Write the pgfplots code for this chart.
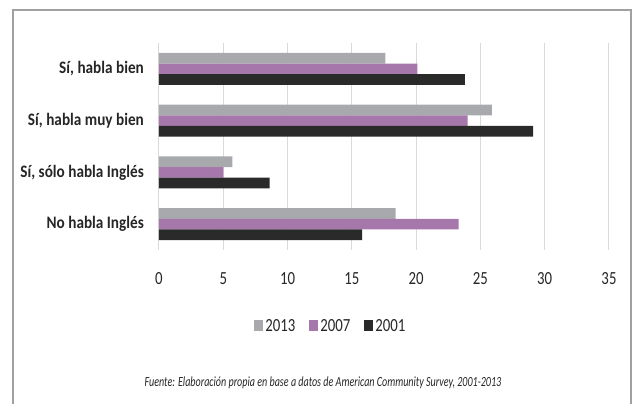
\documentclass[border=0pt]{standalone}
\usepackage{pgfplots}
\pgfplotsset{compat=1.18}
\usepackage{fontspec}
\setmainfont{Carlito}
\newfontfamily\labfont{Carlito}[FakeStretch=0.87]
\newfontfamily\tickfont{Carlito}[FakeStretch=0.8]
\newfontfamily\footfont{Carlito}[FakeStretch=0.72]
\definecolor{cgray}{HTML}{A8A9AC}
\definecolor{cpurple}{HTML}{A677AA}
\definecolor{cblack}{HTML}{2A2A2A}
\definecolor{gridc}{HTML}{D9D9D9}
\definecolor{framec}{HTML}{A0A0A0}
\definecolor{txt}{HTML}{262626}
\begin{document}
\begin{tikzpicture}[x=1pt,y=1pt]
\path[use as bounding box] (0,0) rectangle (633,404);
\draw[framec, line width=2pt] (13,-10) -- (13,394) -- (631,394) -- (631,-10);
\begin{axis}[
  at={(159pt,154pt)}, anchor=south west,
  scale only axis, width=450pt, height=207pt,
  xbar, bar width=10.7pt,
  xmin=0, xmax=35, ymin=-0.5, ymax=3.5,
  xtick={0,5,...,35},
  ytick={0,1,2,3},
  yticklabels={{No habla Inglés},{Sí, sólo habla Inglés},{Sí, habla muy bien},{Sí, habla bien}},
  axis line style={draw=none},
  major tick length=0pt,
  xmajorgrids, grid style={gridc, line width=1pt},
  /pgf/number format/assume math mode=true,
  xticklabel style={font=\tickfont\fontsize{18.5}{18}\selectfont, text=txt, anchor=base, yshift=-35pt},
  yticklabel style={font=\labfont\bfseries\fontsize{17.5}{18}\selectfont, text=txt, anchor=east, inner sep=0pt, xshift=-15pt},
  legend style={at={(0.382,-0.367)}, anchor=center, legend columns=3, draw=none, fill=none,
    font=\tickfont\fontsize{18.5}{18}\selectfont, text=txt,
    /tikz/every even column/.append style={column sep=12pt}},
  legend image code/.code={\fill[#1] (0pt,-5pt) rectangle (9pt,6pt);},
]
\addplot[fill=cgray, draw=none, bar shift=10.7pt] coordinates {(18.4,0) (5.7,1) (25.9,2) (17.6,3)};
\addplot[fill=cpurple, draw=none, bar shift=0pt] coordinates {(23.3,0) (5.0,1) (24.0,2) (20.1,3)};
\addplot[fill=cblack, draw=none, bar shift=-10.7pt] coordinates {(15.8,0) (8.6,1) (29.1,2) (23.8,3)};
\legend{2013,2007,2001}
\end{axis}
\node[text=txt, font=\footfont\itshape\fontsize{14}{14}\selectfont] at (323,21) {Fuente: Elaboración propia en base a datos de American Community Survey, 2001-2013};
\end{tikzpicture}
\end{document}
